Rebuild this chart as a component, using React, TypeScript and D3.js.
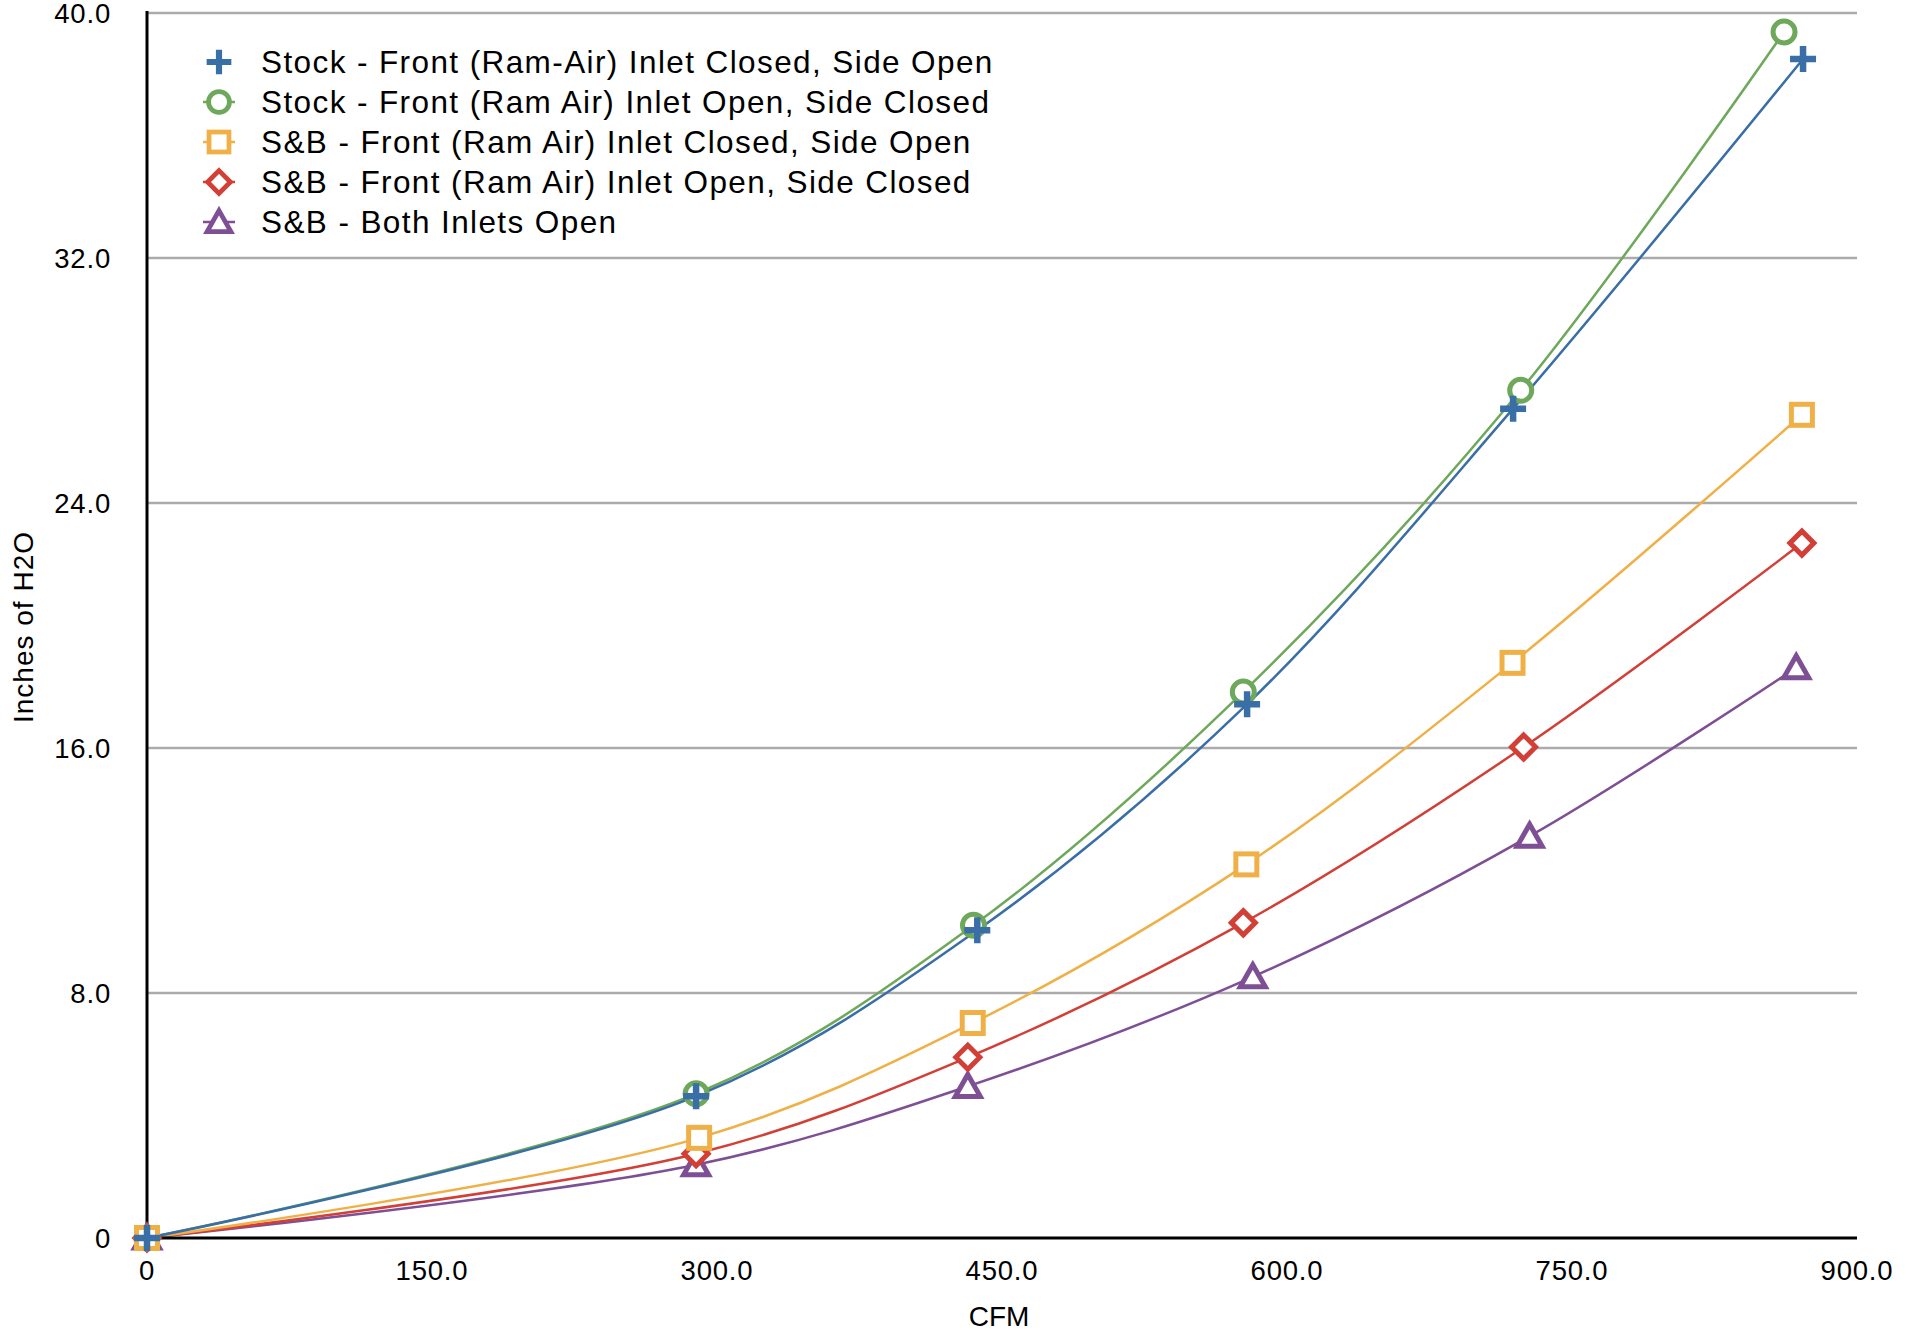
import React, { useEffect, useRef } from "react";
import * as d3 from "d3";

const seriesNames = [
  "Stock - Front (Ram-Air) Inlet Closed, Side Open",
  "Stock - Front (Ram Air) Inlet Open, Side Closed",
  "S&B - Front (Ram Air) Inlet Closed, Side Open",
  "S&B - Front (Ram Air) Inlet Open, Side Closed",
  "S&B - Both Inlets Open",
];
const seriesColors = ["#3a6ea6", "#6ea85a", "#f0b048", "#d23f37", "#7e4f94"];
const seriesMarkers = ["plus", "circle", "square", "diamond", "triangle"];

const stockClosedX = [0, 289, 437, 579, 719, 871.6];
const stockClosedY = [0, 4.63, 10.05, 17.43, 27.08, 38.5];
const stockOpenX = [0, 289, 435, 577, 723, 861.6];
const stockOpenY = [0, 4.71, 10.21, 17.83, 27.68, 39.38];
const sbClosedX = [0, 290.6, 434.6, 578.6, 718.7, 871];
const sbClosedY = [0, 3.27, 7.02, 12.2, 18.78, 26.88];
const sbOpenX = [0, 289, 432, 577, 724.5, 871];
const sbOpenY = [0, 2.75, 5.9, 10.29, 16.03, 22.69];
const sbBothX = [0, 289, 432, 582, 727.7, 868];
const sbBothY = [0, 2.39, 4.95, 8.53, 13.12, 18.62];

const xTicks = [0, 150, 300, 450, 600, 750, 900];
const yTicks = [0, 8, 16, 24, 32, 40];
const xTitle = "CFM";
const yTitle = "Inches of H2O";

const FONT = "'Liberation Sans', Arial, Helvetica, sans-serif";

function drawMarker(g: any, type: string, color: string) {
  if (type === "plus") {
    g.append("path")
      .attr("d", "M-13,0H13M0,-13V13")
      .attr("stroke", color)
      .attr("stroke-width", 6.5)
      .attr("fill", "none");
  } else if (type === "circle") {
    g.append("circle").attr("r", 11).attr("fill", "#fff").attr("stroke", color).attr("stroke-width", 5);
  } else if (type === "square") {
    g.append("rect").attr("x", -10.5).attr("y", -10.5).attr("width", 21).attr("height", 21)
      .attr("fill", "#fff").attr("stroke", color).attr("stroke-width", 5);
  } else if (type === "diamond") {
    g.append("path").attr("d", "M0,-12L12,0L0,12L-12,0Z")
      .attr("fill", "#fff").attr("stroke", color).attr("stroke-width", 5);
  } else if (type === "triangle") {
    g.append("path").attr("d", "M0,-12L12.5,10L-12.5,10Z")
      .attr("fill", "#fff").attr("stroke", color).attr("stroke-width", 5).attr("stroke-linejoin", "miter");
  }
}

export default function App() {
  const ref = useRef<SVGSVGElement>(null);
  useEffect(() => {
    document.body.style.margin = "0";
    const svg = d3.select(ref.current);
    svg.selectAll("*").remove();
    const W = 1914, H = 1330;
    const left = 147, right = 1857, top = 13, bottom = 1238;
    const x = d3.scaleLinear().domain([0, 900]).range([left, right]);
    const y = d3.scaleLinear().domain([0, 40]).range([bottom, top]);

    svg.append("rect").attr("width", W).attr("height", H).attr("fill", "#fff");

    // gridlines
    svg.append("g").selectAll("line").data(yTicks.filter((d) => d > 0)).join("line")
      .attr("x1", left).attr("x2", right)
      .attr("y1", (d) => y(d)).attr("y2", (d) => y(d))
      .attr("stroke", "#ababab").attr("stroke-width", 2.5);

    // y tick labels
    svg.append("g").selectAll("text").data(yTicks).join("text")
      .attr("x", 111).attr("y", (d) => y(d) + 10)
      .attr("text-anchor", "end").attr("font-family", FONT).attr("font-size", 27.5)
      .attr("letter-spacing", 0.8)
      .attr("fill", "#000")
      .text((d) => (d === 0 ? "0" : d3.format(".1f")(d)));

    // x tick labels
    svg.append("g").selectAll("text").data(xTicks).join("text")
      .attr("x", (d) => x(d)).attr("y", 1280)
      .attr("text-anchor", "middle").attr("font-family", FONT).attr("font-size", 27.5)
      .attr("letter-spacing", 0.8)
      .attr("fill", "#000")
      .text((d) => (d === 0 ? "0" : d3.format(".1f")(d)));

    // axis titles
    svg.append("text").attr("x", 999).attr("y", 1326)
      .attr("text-anchor", "middle").attr("font-family", FONT).attr("font-size", 28)
      .text(xTitle);
    svg.append("text").attr("transform", `translate(33,627) rotate(-90)`)
      .attr("text-anchor", "middle").attr("font-family", FONT).attr("font-size", 28)
      .attr("letter-spacing", 1)
      .text(yTitle);

    const xs = [stockClosedX, stockOpenX, sbClosedX, sbOpenX, sbBothX];
    const ys = [stockClosedY, stockOpenY, sbClosedY, sbOpenY, sbBothY];
    const line = d3.line<[number, number]>()
      .x((d) => x(d[0])).y((d) => y(d[1]))
      .curve(d3.curveCatmullRom.alpha(0.5));

    const order = [4, 3, 1, 2, 0];
    const lineG = svg.append("g");
    order.forEach((i) => {
      const pts = xs[i].map((v, j) => [v, ys[i][j]] as [number, number]);
      lineG.append("path").attr("d", line(pts)).attr("fill", "none")
        .attr("stroke", seriesColors[i]).attr("stroke-width", 2.5);
    });

    // axes lines
    svg.append("line").attr("x1", left).attr("x2", left).attr("y1", top - 2).attr("y2", bottom + 1.5)
      .attr("stroke", "#000").attr("stroke-width", 3);
    svg.append("line").attr("x1", left - 1.5).attr("x2", right).attr("y1", bottom).attr("y2", bottom)
      .attr("stroke", "#000").attr("stroke-width", 3);

    const markG = svg.append("g");
    order.forEach((i) => {
      xs[i].forEach((v, j) => {
        const g = markG.append("g").attr("transform", `translate(${x(v)},${y(ys[i][j])})`);
        drawMarker(g, seriesMarkers[i], seriesColors[i]);
      });
    });

    // legend
    const leg = svg.append("g");
    seriesNames.forEach((name, i) => {
      const yy = 62 + i * 40;
      const g = leg.append("g").attr("transform", `translate(219,${yy})`);
      if (seriesMarkers[i] !== "plus") {
        g.append("line").attr("x1", -16).attr("x2", 16).attr("stroke", seriesColors[i]).attr("stroke-width", 2.5);
      }
      const m = g.append("g").attr("transform", "scale(0.95)");
      drawMarker(m, seriesMarkers[i], seriesColors[i]);
      leg.append("text").attr("x", 261).attr("y", yy + 11)
        .attr("font-family", FONT).attr("font-size", 31.5).attr("letter-spacing", 1.4)
        .attr("fill", "#000").text(name);
    });
  }, []);
  return <svg ref={ref} width={1914} height={1330} style={{ display: "block" }} />;
}
